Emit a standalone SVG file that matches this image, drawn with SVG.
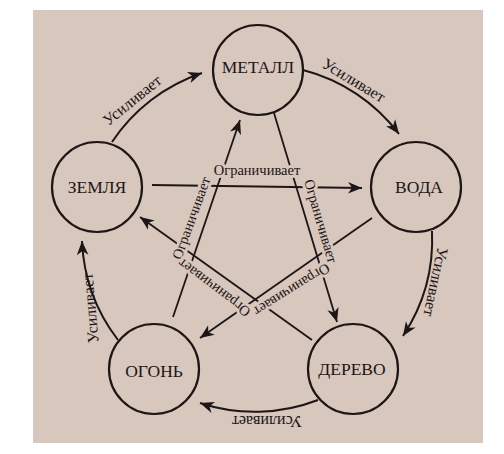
<svg xmlns="http://www.w3.org/2000/svg" width="504" height="454" viewBox="0 0 504 454">
<defs>
<marker id="ah" viewBox="-14 -6 15 12" refX="0" refY="0" markerWidth="15" markerHeight="12" markerUnits="userSpaceOnUse" orient="auto">
<path d="M0,0 L-14,-5.8 L-10,0 L-14,5.8 Z" fill="#1c1616"/>
</marker>
<style>
.node circle{fill:none;stroke:#1c1616;stroke-width:2.2}
.node text{font-family:"Liberation Serif","Times New Roman",serif;font-size:17.5px;fill:#1c1616;text-anchor:middle}
.arc{fill:none;stroke:#1c1616;stroke-width:2;marker-end:url(#ah)}
.ln{fill:none;stroke:#1c1616;stroke-width:1.8}
.ar{marker-end:url(#ah)}
.lbl{font-family:"Liberation Serif","Times New Roman",serif;fill:#1c1616;text-anchor:middle}
.u{font-size:16px}
.o{font-size:14.5px;stroke:#d7c7bd;stroke-width:6;paint-order:stroke;stroke-linejoin:round}
</style>
</defs>
<rect x="0" y="0" width="504" height="454" fill="#ffffff"/>
<rect x="33" y="10" width="450" height="433" fill="#d7c7bd"/>
<g id="connectors">
<path class="arc" d="M112,142 A175,175 0 0,1 202,73"/>
<path class="arc" d="M303,70 A175,175 0 0,1 399,134"/>
<path class="arc" d="M432,231 A175,175 0 0,1 403,336"/>
<path class="arc" d="M318,400 A175,175 0 0,1 200,403"/>
<path class="arc" d="M118,340 A175,175 0 0,1 82,241"/>
<path class="ln ar" d="M152,185 L362,188"/>
<path class="ln ar" d="M274,113 L337,322"/>
<path class="ln ar" d="M372,218 L200,338"/>
<path class="ln ar" d="M312,340 L140,217"/>
<path class="ln ar" d="M173,317 L240,120"/>
<text class="lbl u" x="132" y="100" dy="0.35em" transform="rotate(-39 132 100)">Усиливает</text>
<text class="lbl u" x="354" y="80" dy="0.35em" transform="rotate(31 354 80)">Усиливает</text>
<text class="lbl u" x="436" y="282" dy="0.35em" transform="rotate(102 436 282)">Усиливает</text>
<text class="lbl u" x="267" y="422" dy="0.35em" transform="rotate(180 267 422)">Усиливает</text>
<text class="lbl u" x="90" y="308" dy="0.35em" transform="rotate(-95 90 308)">Усиливает</text>
<text class="lbl o" x="257" y="169.5" dy="0.35em">Ограничивает</text>
<text class="lbl o" x="191" y="218" dy="0.35em" transform="rotate(-70 191 218)">Ограничивает</text>
<text class="lbl o" x="321" y="221" dy="0.35em" transform="rotate(73.6 321 221)">Ограничивает</text>
<text class="lbl o" x="214" y="288" dy="0.35em" transform="rotate(217 214 288)">Ограничивает</text>
<text class="lbl o" x="292" y="290" dy="0.35em" transform="rotate(148 292 290)">Ограничивает</text>
</g>
<g id="metal" class="node"><circle cx="258" cy="70" r="45"/><text x="258" y="73">МЕТАЛЛ</text></g>
<g id="zemlya" class="node"><circle cx="97" cy="187" r="45"/><text x="97" y="193">ЗЕМЛЯ</text></g>
<g id="voda" class="node"><circle cx="416" cy="187" r="45"/><text x="419" y="193">ВОДА</text></g>
<g id="ogon" class="node"><circle cx="154" cy="369" r="45"/><text x="154" y="377">ОГОНЬ</text></g>
<g id="derevo" class="node"><circle cx="353" cy="369" r="45"/><text x="352" y="375">ДЕРЕВО</text></g>
</svg>
